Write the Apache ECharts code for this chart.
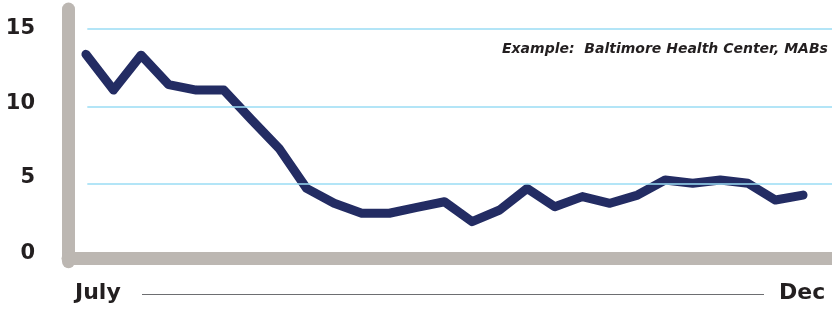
<!DOCTYPE html>
<html>
<head>
<meta charset="utf-8">
<style>
  html, body { margin: 0; padding: 0; background: #fff; }
  #chart { width: 832px; height: 309px; }
</style>
<script src="https://cdn.jsdelivr.net/npm/echarts@6/dist/echarts.min.js"></script>
</head>
<body>
<div id="chart"></div>
<script>
// weekly values, July -> Dec
const values = [13.35, 11.05, 13.3, 11.4, 11.05, 11.05, 9.15, 7.3, 4.72, 3.76, 3.12, 3.12, 3.5, 3.86,
  2.58, 3.33, 4.72, 3.54, 4.19, 3.76, 4.29, 5.26, 5.05, 5.26, 5.05, 3.97, 4.29]
const yTicks = [0, 5, 10, 15]
const gridValues = [5, 10, 15]
const periodLabels = ['July', 'Dec']
const noteText = 'Example:  Baltimore Health Center, MABs'

const xMin = -0.65
const xMax = 27.05
// small per-label lift so labels sit like the original
const labelLift = { 0: 17, 5: 12, 10: 5, 15: 0 }

const chart = echarts.init(document.getElementById('chart'), null, { renderer: 'canvas' })

const rich = {}
yTicks.forEach(function (t) {
  rich['l' + t] = {
    fontFamily: 'DejaVu Sans',
    fontWeight: 'bold',
    fontSize: 21,
    color: '#231f20',
    padding: [0, 0, labelLift[t], 0]
  }
})

chart.setOption({
  animation: false,
  grid: { left: 68, right: 0, top: 9, bottom: 47.3 },
  xAxis: {
    type: 'value',
    min: xMin,
    max: xMax,
    offset: -3,
    axisLine: { show: true, onZero: false, lineStyle: { color: '#bcb7b2', width: 13, cap: 'round' } },
    axisTick: { show: false },
    axisLabel: { show: false },
    splitLine: { show: false }
  },
  yAxis: {
    type: 'value',
    min: 0,
    max: 16.27,
    interval: 5,
    axisLine: { show: true, onZero: false, lineStyle: { color: '#bcb7b2', width: 13, cap: 'round' } },
    axisTick: { show: false },
    splitLine: { show: false },
    axisLabel: {
      margin: 33,
      showMaxLabel: false,
      formatter: function (v) {
        return yTicks.indexOf(v) >= 0 ? '{l' + v + '|' + v + '}' : ''
      },
      rich: rich
    }
  },
  series: [
    {
      type: 'line',
      data: values.map(function (v, i) { return [i, v] }),
      symbol: 'none',
      z: 3,
      lineStyle: { color: '#232c63', width: 9, cap: 'round', join: 'round' },
      markLine: {
        silent: true,
        symbol: 'none',
        label: { show: false },
        lineStyle: { color: '#9adcf5', width: 1.5, type: 'solid' },
        data: gridValues.map(function (g) {
          return [{ coord: [0.05, g] }, { coord: [xMax, g] }]
        })
      }
    }
  ],
  graphic: [
    {
      type: 'text',
      left: 502,
      top: 42,
      style: {
        text: noteText,
        font: 'italic bold 14px "DejaVu Sans"',
        fill: '#231f20'
      }
    },
    {
      type: 'text',
      left: 75,
      top: 282,
      style: {
        text: periodLabels[0],
        font: 'bold 22px "DejaVu Sans"',
        fill: '#231f20'
      }
    },
    {
      type: 'text',
      left: 779,
      top: 282,
      style: {
        text: periodLabels[1],
        font: 'bold 22px "DejaVu Sans"',
        fill: '#231f20'
      }
    },
    {
      type: 'line',
      shape: { x1: 142, y1: 294.5, x2: 764, y2: 294.5 },
      style: { stroke: '#6d6e71', lineWidth: 1 }
    }
  ]
})
</script>
</body>
</html>
